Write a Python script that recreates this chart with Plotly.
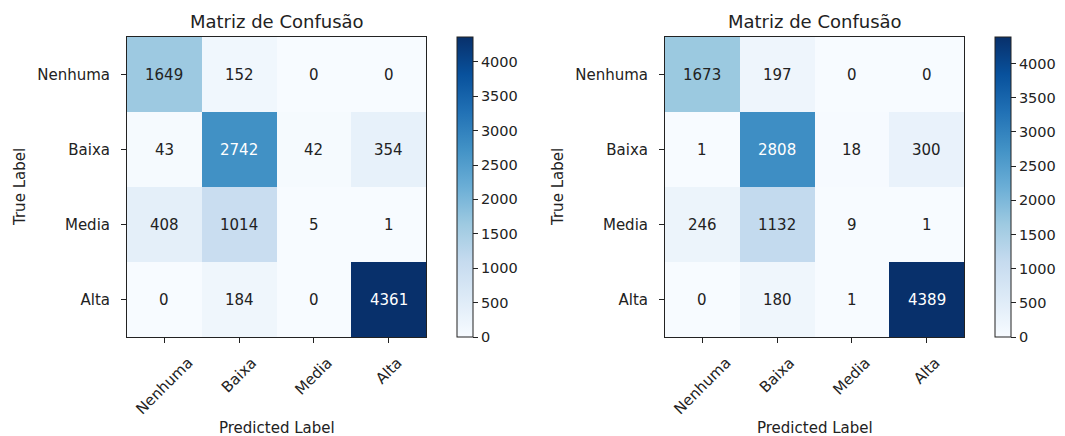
import plotly.graph_objects as go
import plotly.colors as pc

# classes and the two confusion matrices
labels = ["Nenhuma", "Baixa", "Media", "Alta"]
cm_left = [[1649, 152, 0, 0],
           [43, 2742, 42, 354],
           [408, 1014, 5, 1],
           [0, 184, 0, 4361]]
cm_right = [[1673, 197, 0, 0],
            [1, 2808, 18, 300],
            [246, 1132, 9, 1],
            [0, 180, 1, 4389]]
cbar_ticks = [0, 500, 1000, 1500, 2000, 2500, 3000, 3500, 4000]
title_text = "Matriz de Confusão"

W, H = 1065, 436
FONT = "DejaVu Sans"
FS = 15
blues = pc.sequential.Blues

top_px, bot_px = 37, 337
panels = [
    dict(cm=cm_left, x0=127, x1=426, cb=457),
    dict(cm=cm_right, x0=665, x1=964, cb=995),
]

fig = go.Figure()
for i, p in enumerate(panels):
    n = "" if i == 0 else str(i + 1)
    zmax = max(max(r) for r in p["cm"])
    fig.add_trace(go.Heatmap(
        z=p["cm"], x=labels, y=labels,
        xaxis="x" + n, yaxis="y" + n,
        colorscale=blues, zmin=0, zmax=zmax,
        hoverinfo="skip",
        colorbar=dict(
            x=p["cb"] / W, xanchor="left", xpad=0, ypad=0,
            y=1 - top_px / H, yanchor="top",
            lenmode="pixels", len=bot_px - top_px,
            thickness=16, outlinewidth=1, outlinecolor="#222",
            ticks="outside", ticklen=5, tickcolor="#222",
            tickvals=cbar_ticks,
            tickfont=dict(family=FONT, size=14.5, color="#222"),
        ),
    ))
    dom_x = [p["x0"] / W, p["x1"] / W]
    dom_y = [1 - bot_px / H, 1 - top_px / H]
    fig.update_layout(**{
        "xaxis" + n: dict(domain=dom_x, anchor="y" + n, showticklabels=False,
                          ticks="outside", ticklen=5, tickcolor="#222",
                          showline=True, mirror=True, linecolor="#222",
                          linewidth=1, showgrid=False, zeroline=False),
        "yaxis" + n: dict(domain=dom_y, anchor="x" + n, autorange="reversed",
                          ticks="outside", ticklen=5, tickcolor="#222",
                          ticklabelstandoff=8,
                          tickfont=dict(family=FONT, size=FS, color="#222"),
                          showline=True, mirror=True, linecolor="#222",
                          linewidth=1, showgrid=False, zeroline=False),
    })
    xr = "x" + n
    yr = "y" + n
    # cell values
    for r, row in enumerate(p["cm"]):
        for c, v in enumerate(row):
            fig.add_annotation(x=labels[c], y=labels[r], xref=xr, yref=yr,
                               text=str(v), showarrow=False,
                               font=dict(family=FONT, size=FS,
                                         color="white" if v > zmax / 2 else "#222"))
    # rotated x tick labels
    for lab in labels:
        fig.add_annotation(x=lab, y=0, xref=xr, yref=yr + " domain",
                           text=lab, showarrow=False, textangle=-45,
                           xanchor="center", yanchor="top", yshift=-14,
                           font=dict(family=FONT, size=FS, color="#222"))
    cx = (p["x0"] + p["x1"]) / 2 / W
    fig.add_annotation(x=cx, y=1 - top_px / H, xref="paper", yref="paper",
                       text=title_text, showarrow=False,
                       xanchor="center", yanchor="bottom", yshift=3,
                       font=dict(family=FONT, size=18, color="#222"))
    fig.add_annotation(x=cx, y=1 - 428 / H, xref="paper", yref="paper",
                       text="Predicted Label", showarrow=False,
                       xanchor="center", yanchor="middle",
                       font=dict(family=FONT, size=FS, color="#222"))
    fig.add_annotation(x=(p["x0"] - 107) / W, y=1 - 187 / H, xref="paper", yref="paper",
                       text="True Label", showarrow=False, textangle=-90,
                       xanchor="center", yanchor="middle",
                       font=dict(family=FONT, size=FS, color="#222"))

fig.update_layout(width=W, height=H, margin=dict(l=0, r=0, t=0, b=0),
                  paper_bgcolor="white", plot_bgcolor="white",
                  font=dict(family=FONT, color="#222"))
# drop the default page margin so the figure sits at the window's corner
fig.write_html("out.html", config={"displayModeBar": False},
               post_script="document.body.style.margin='0';")
